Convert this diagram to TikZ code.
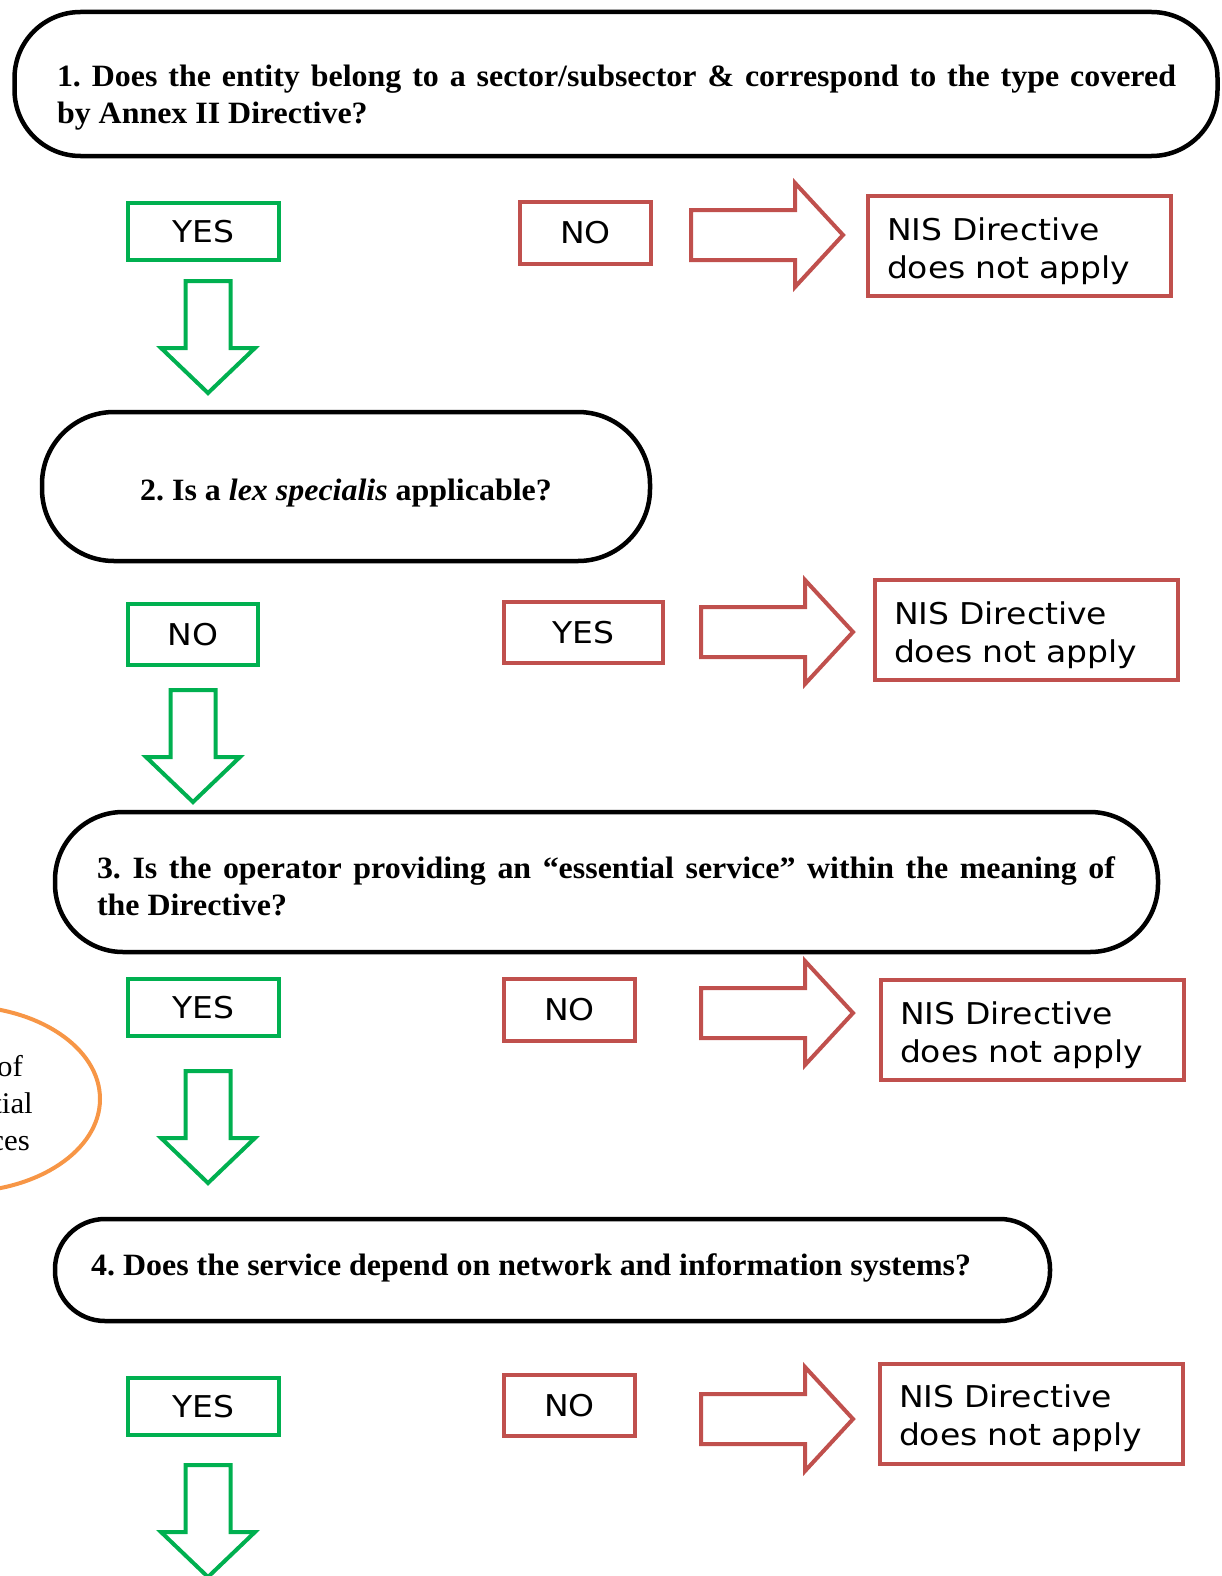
\documentclass[tikz,border=0pt]{standalone}
\usepackage{fontspec}
\setmainfont{Liberation Serif}[FakeStretch=1.03]
\newfontfamily\boxfont[FakeStretch=1.1]{DejaVu Sans}
\usetikzlibrary{shapes.geometric}
\definecolor{yesgreen}{RGB}{0,176,80}
\definecolor{nored}{RGB}{192,80,77}
\definecolor{idorange}{RGB}{247,150,70}
\frenchspacing
\begin{document}
\begin{tikzpicture}[x=1pt,y=-1pt,
	question/.style={draw,line width=4.5pt,rounded corners=#1,inner sep=0pt},
	qtext/.style={font=\fontsize{31}{37}\selectfont\bfseries,align=justify,inner sep=0pt},
	go/.style={draw=yesgreen,line width=4pt,font=\boxfont\fontsize{30}{38}\selectfont,inner sep=0pt},
	stop/.style={draw=nored,line width=4pt,font=\boxfont\fontsize{30}{38}\selectfont,inner sep=0pt},
	nis/.style={stop,minimum width=303,minimum height=100,text width=265,align=left,text depth=34pt},
	downarrow/.pic={\draw[yesgreen,line width=4pt] (-22.5,0) -- (22.5,0) -- (22.5,67) -- (47,67) -- (0,112) -- (-47,67) -- (-22.5,67) -- cycle;},
	rightarrow/.pic={\draw[nored,line width=4pt] (0,-25) -- (104,-25) -- (104,-52) -- (152,0) -- (104,52) -- (104,25) -- (0,25) -- cycle;}]
	\useasboundingbox (0,0) rectangle (1221,1576);
	% question 1
	\node[question=66,minimum width=1203,minimum height=144] (q1) at (616,84) {};
	\node[qtext,text width=1119] (q1text) at (616.5,98) {1. Does the entity belong to a sector/subsector \& correspond to the type covered\linebreak by Annex II Directive?};
	\node[go,minimum width=151,minimum height=57] (yes1) at (203.5,231.5) {YES};
	\node[stop,minimum width=131,minimum height=62] (no1) at (585.5,233) {NO};
	\node[nis] (nis1) at (1019.5,246) {NIS Directive\\does not apply};
	\pic (right1) at (691,235) {rightarrow};
	\pic (down1) at (208,281) {downarrow};
	% question 2
	\node[question=72,minimum width=608,minimum height=149] (q2) at (346,486.5) {};
	\node[qtext] (q2text) at (346,493) {2. Is a \textit{lex specialis} applicable?};
	\node[go,minimum width=130,minimum height=61] (no2) at (193,634.5) {NO};
	\node[stop,minimum width=159,minimum height=61] (yes2) at (583.5,632.5) {YES};
	\node[nis] (nis2) at (1026.5,630) {NIS Directive\\does not apply};
	\pic (right2) at (701,632) {rightarrow};
	\pic (down2) at (193,690) {downarrow};
	% question 3
	\node[question=68,minimum width=1103,minimum height=140] (q3) at (606.5,882) {};
	\node[qtext,text width=1018] (q3text) at (606,886.5) {3. Is the operator providing an “essential service” within the meaning of\linebreak the Directive?};
	\node[go,minimum width=151,minimum height=57] (yes3) at (203.5,1007.5) {YES};
	\node[stop,minimum width=131,minimum height=62] (no3) at (569.5,1010) {NO};
	\node[nis] (nis3) at (1032.5,1030) {NIS Directive\\does not apply};
	\pic (right3) at (701,1013) {rightarrow};
	\pic (down3) at (208,1071) {downarrow};
	% cut-off ellipse on the left
	\node[ellipse,draw=idorange,line width=4pt,minimum width=280,minimum height=186] (ident) at (-40,1099) {};
	\node[font=\fontsize{30}{37}\selectfont,align=right,anchor=east,inner sep=0pt] (identtext) at (33,1103) {of\hspace*{10pt}\\tial\\ces\hspace*{3pt}};
	% question 4
	\node[question=50,minimum width=995,minimum height=102] (q4) at (552.5,1270) {};
	\node[qtext,anchor=west] (q4text) at (91,1268) {4. Does the service depend on network and information systems?};
	\node[go,minimum width=151,minimum height=57] (yes4) at (203.5,1406.5) {YES};
	\node[stop,minimum width=131,minimum height=61] (no4) at (569.5,1405.5) {NO};
	\node[nis] (nis4) at (1031.5,1413.5) {NIS Directive\\does not apply};
	\pic (right4) at (701,1419) {rightarrow};
	\pic (down4) at (208,1465) {downarrow};
\end{tikzpicture}
\end{document}
